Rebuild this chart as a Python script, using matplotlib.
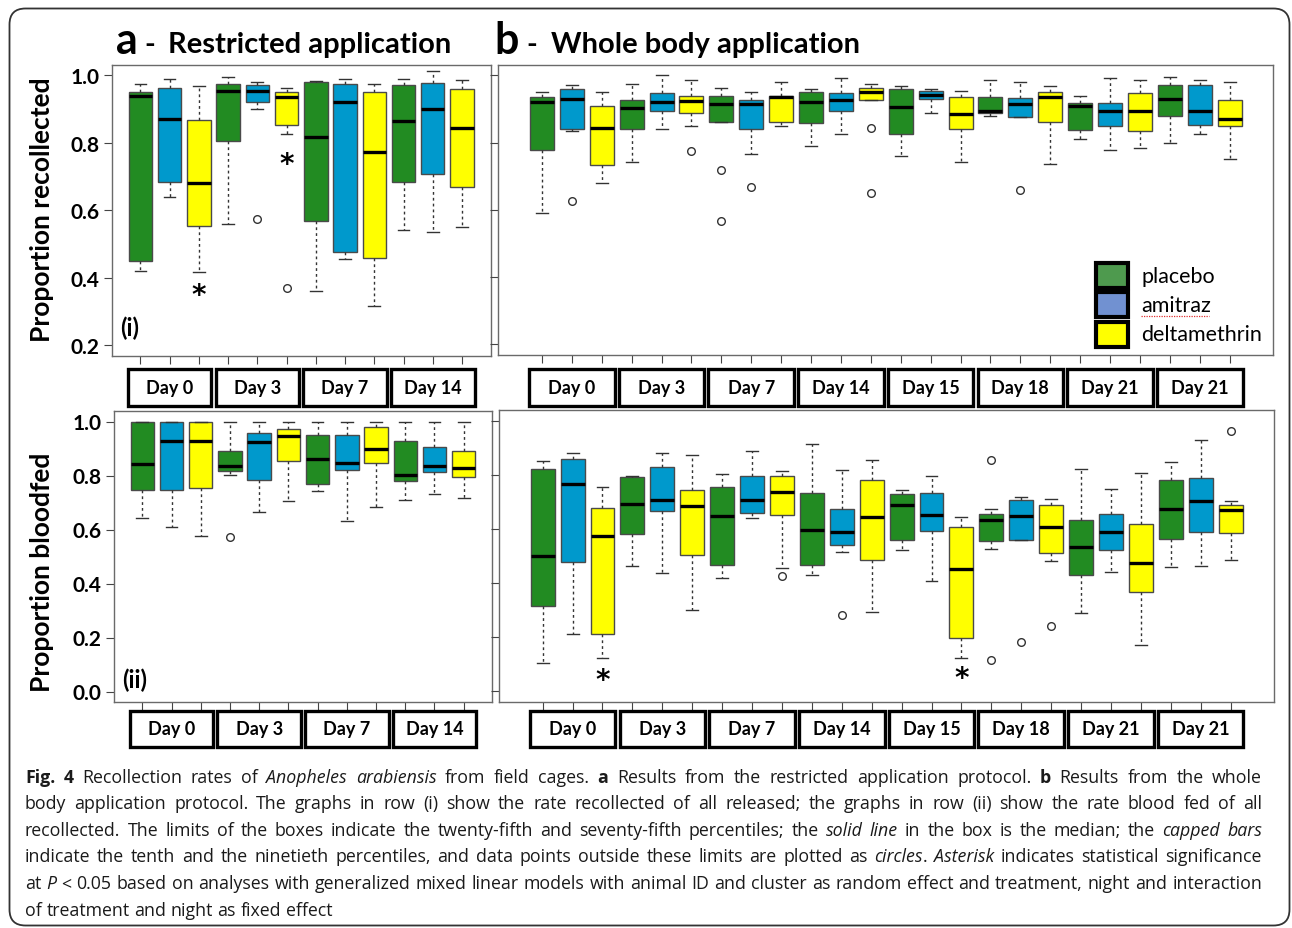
import matplotlib
matplotlib.use('Agg')
import matplotlib.pyplot as plt
from matplotlib.patches import Rectangle, FancyBboxPatch
from matplotlib.transforms import blended_transform_factory, IdentityTransform

W, H = 1292, 929

# ---------------- data ----------------
DAYS_A = ['Day 0', 'Day 3', 'Day 7', 'Day 14']
DAYS_B = ['Day 0', 'Day 3', 'Day 7', 'Day 14', 'Day 15', 'Day 18', 'Day 21', 'Day 21']
TREATMENTS = ['placebo', 'amitraz', 'deltamethrin']
BOX_COLORS = ['#228B22', '#0099CC', '#FFFF00']
LEGEND_COLORS = ['#4E9A4E', '#7191D1', '#FFFF00']

# a (i) proportion recollected, restricted application
A_REC_LO = [0.420, 0.640, 0.416, 0.560, 0.902, 0.825, 0.361, 0.457, 0.316, 0.541, 0.536, 0.551]
A_REC_Q1 = [0.451, 0.685, 0.553, 0.807, 0.921, 0.853, 0.569, 0.476, 0.459, 0.685, 0.709, 0.668]
A_REC_MED = [0.938, 0.871, 0.682, 0.954, 0.955, 0.935, 0.817, 0.922, 0.772, 0.864, 0.902, 0.845]
A_REC_Q3 = [0.951, 0.962, 0.869, 0.975, 0.972, 0.950, 0.980, 0.975, 0.951, 0.972, 0.977, 0.961]
A_REC_HI = [0.975, 0.990, 0.970, 0.995, 0.980, 0.962, 0.985, 0.990, 0.975, 0.990, 1.012, 0.986]
A_REC_OUT = [[], [], [], [], [0.575], [0.371], [], [], [], [], [], []]
A_REC_SIG = [3, 6]
A_REC_SIG_Y = [0.350, 0.738]

# a (ii) proportion bloodfed, restricted application
A_BF_LO = [0.641, 0.609, 0.575, 0.803, 0.666, 0.704, 0.743, 0.631, 0.683, 0.710, 0.733, 0.715]
A_BF_Q1 = [0.748, 0.746, 0.754, 0.818, 0.784, 0.855, 0.769, 0.821, 0.846, 0.781, 0.813, 0.794]
A_BF_MED = [0.843, 0.929, 0.929, 0.835, 0.923, 0.945, 0.860, 0.848, 0.900, 0.802, 0.835, 0.827]
A_BF_Q3 = [1.000, 1.000, 1.000, 0.892, 0.957, 0.973, 0.951, 0.951, 0.979, 0.926, 0.905, 0.889]
A_BF_HI = [1.000, 1.000, 1.000, 1.000, 1.000, 1.000, 1.000, 1.000, 1.000, 1.000, 1.000, 1.000]
A_BF_OUT = [[], [], [], [0.574], [], [], [], [], [], [], [], []]

# b (i) proportion recollected, whole body application
B_REC_LO = [0.592, 0.835, 0.680, 0.741, 0.841, 0.850, 0.860, 0.765, 0.850, 0.789, 0.825, 0.926,
            0.760, 0.889, 0.741, 0.880, 0.875, 0.735, 0.810, 0.778, 0.785, 0.800, 0.825, 0.750]
B_REC_Q1 = [0.777, 0.840, 0.733, 0.840, 0.893, 0.888, 0.860, 0.840, 0.860, 0.859, 0.895, 0.926,
            0.825, 0.931, 0.840, 0.888, 0.875, 0.862, 0.838, 0.850, 0.835, 0.880, 0.852, 0.850]
B_REC_MED = [0.920, 0.929, 0.844, 0.904, 0.920, 0.923, 0.915, 0.915, 0.935, 0.920, 0.927, 0.952,
             0.905, 0.941, 0.884, 0.895, 0.915, 0.937, 0.909, 0.895, 0.895, 0.930, 0.895, 0.869]
B_REC_Q3 = [0.936, 0.960, 0.910, 0.926, 0.949, 0.939, 0.939, 0.926, 0.938, 0.951, 0.949, 0.964,
            0.960, 0.955, 0.936, 0.936, 0.932, 0.950, 0.919, 0.919, 0.947, 0.971, 0.971, 0.926]
B_REC_HI = [0.951, 0.971, 0.951, 0.976, 1.002, 0.985, 0.963, 0.951, 0.981, 0.960, 0.991, 0.976,
            0.970, 0.961, 0.955, 0.986, 0.981, 0.970, 0.939, 0.991, 0.986, 0.996, 0.986, 0.981]
B_REC_OUT = [[], [0.625], [], [], [], [0.775], [0.719, 0.568], [0.669], [], [], [], [0.845, 0.650],
             [], [], [], [], [0.659], [], [], [], [], [], [], []]

# b (ii) proportion bloodfed, whole body application
B_BF_LO = [0.106, 0.211, 0.122, 0.463, 0.437, 0.301, 0.421, 0.640, 0.457, 0.429, 0.516, 0.292,
           0.521, 0.407, 0.122, 0.528, 0.558, 0.482, 0.289, 0.443, 0.171, 0.459, 0.463, 0.484]
B_BF_Q1 = [0.316, 0.480, 0.211, 0.580, 0.667, 0.506, 0.469, 0.660, 0.651, 0.467, 0.543, 0.484,
           0.561, 0.592, 0.197, 0.555, 0.558, 0.511, 0.429, 0.521, 0.369, 0.565, 0.588, 0.586]
B_BF_MED = [0.499, 0.768, 0.575, 0.693, 0.709, 0.687, 0.650, 0.706, 0.737, 0.595, 0.588, 0.644,
            0.690, 0.652, 0.451, 0.634, 0.650, 0.609, 0.532, 0.591, 0.473, 0.674, 0.703, 0.671]
B_BF_Q3 = [0.823, 0.860, 0.678, 0.791, 0.829, 0.744, 0.756, 0.795, 0.797, 0.735, 0.676, 0.781,
           0.730, 0.733, 0.609, 0.654, 0.706, 0.688, 0.635, 0.654, 0.617, 0.781, 0.789, 0.688]
B_BF_HI = [0.850, 0.882, 0.757, 0.796, 0.882, 0.872, 0.805, 0.887, 0.815, 0.916, 0.819, 0.856,
           0.744, 0.797, 0.645, 0.673, 0.719, 0.713, 0.822, 0.747, 0.808, 0.848, 0.931, 0.705]
B_BF_OUT = [[], [], [], [], [], [], [], [], [0.425], [], [0.283], [],
            [], [], [], [0.854, 0.115], [0.183], [0.242], [], [], [], [], [], [0.964]]
B_BF_SIG = [3, 15]
B_BF_SIG_Y = [0.042, 0.051]

CAPTION = [
    [('Fig. 4', 'bold'), (' Recollection rates of ', 'normal'), ('Anopheles arabiensis', 'italic'),
     (' from field cages. ', 'normal'), ('a', 'bold'),
     (' Results from the restricted application protocol. ', 'normal'), ('b', 'bold'),
     (' Results from the whole', 'normal')],
    [('body application protocol. The graphs in row (i) show the rate recollected of all released; '
      'the graphs in row (ii) show the rate blood fed of all', 'normal')],
    [('recollected. The limits of the boxes indicate the twenty-fifth and seventy-fifth percentiles; the ', 'normal'),
     ('solid line', 'italic'), (' in the box is the median; the ', 'normal'), ('capped bars', 'italic')],
    [('indicate the tenth and the ninetieth percentiles, and data points outside these limits are plotted as ', 'normal'),
     ('circles', 'italic'), ('. ', 'normal'), ('Asterisk', 'italic'),
     (' indicates statistical significance', 'normal')],
    [('at ', 'normal'), ('P', 'italic'),
     (' < 0.05 based on analyses with generalized mixed linear models with animal ID and cluster as random '
      'effect and treatment, night and interaction', 'normal')],
    [('of treatment and night as fixed effect', 'normal')],
]

# ---------------- figure ----------------
FONT = ['Lato', 'DejaVu Sans']
CAP_FONT = ['Open Sans', 'DejaVu Sans']
plt.rcParams['font.family'] = FONT

fig = plt.figure(figsize=(W / 100, H / 100), dpi=100)
fig.patch.set_facecolor('white')


def fx(px):
    return px / W


def fy(py):
    return 1 - py / H


def rect(l, t, r, b):
    return [fx(l), fy(b), (r - l) / W, (b - t) / H]


def make_stats(lo, q1, med, q3, hi, out):
    return [dict(whislo=a, q1=b, med=c, q3=d, whishi=e, fliers=f)
            for a, b, c, d, e, f in zip(lo, q1, med, q3, hi, out)]


def draw_panel(r, stats, ylim, yticks, show_labels):
    ax = fig.add_axes(r)
    n = len(stats)
    pos = list(range(1, n + 1))
    bp = ax.bxp(stats, positions=pos, widths=0.8, patch_artist=True, capwidths=0.4,
                manage_ticks=False,
                boxprops=dict(edgecolor='#4a4a4a', linewidth=1.0),
                medianprops=dict(color='black', linewidth=2.4, solid_capstyle='butt'),
                whiskerprops=dict(color='#333333', linestyle=(0, (2, 2.2)), linewidth=1.0),
                capprops=dict(color='#333333', linewidth=1.0),
                flierprops=dict(marker='o', markerfacecolor='white', markeredgecolor='#333333',
                                markersize=5.5, markeredgewidth=1.0))
    for i, b in enumerate(bp['boxes']):
        b.set_facecolor(BOX_COLORS[i % 3])
    ax.set_xlim(0.5 - 0.04 * n, n + 0.5 + 0.04 * n)
    ax.set_ylim(*ylim)
    ax.set_xticks(pos)
    ax.set_xticklabels([])
    ax.set_yticks(yticks)
    if show_labels:
        ax.set_yticklabels([f'{t:.1f}' for t in yticks], fontweight='bold', fontsize=15)
    else:
        ax.set_yticklabels([])
    ax.tick_params(direction='out', length=6, width=0.8, color='#444444', pad=3)
    for s in ax.spines.values():
        s.set_color('#6a6a6a')
        s.set_linewidth(1.0)
    return ax


def day_boxes(ax, days, top_px, bot_px):
    tr = blended_transform_factory(ax.transData, fig.transFigure)
    for k, d in enumerate(days):
        c = 3 * k + 2
        rr = Rectangle((c - 1.43, fy(bot_px)), 2.86, fy(top_px) - fy(bot_px), transform=tr,
                       fill=True, facecolor='white', edgecolor='black', linewidth=2.4, clip_on=False)
        fig.add_artist(rr)
        fig.text(c, fy((top_px + bot_px) / 2), d, transform=tr, ha='center', va='center',
                 fontsize=13, fontweight='bold')


ax_ai = draw_panel(rect(111.7, 65.7, 490.7, 357.0),
                   make_stats(A_REC_LO, A_REC_Q1, A_REC_MED, A_REC_Q3, A_REC_HI, A_REC_OUT),
                   (0.168, 1.032), [0.2, 0.4, 0.6, 0.8, 1.0], True)
ax_aii = draw_panel(rect(113.7, 411.7, 492.3, 703.3),
                    make_stats(A_BF_LO, A_BF_Q1, A_BF_MED, A_BF_Q3, A_BF_HI, A_BF_OUT),
                    (-0.04, 1.04), [0.0, 0.2, 0.4, 0.6, 0.8, 1.0], True)
ax_bi = draw_panel(rect(498.3, 65.7, 1273.3, 356.0),
                   make_stats(B_REC_LO, B_REC_Q1, B_REC_MED, B_REC_Q3, B_REC_HI, B_REC_OUT),
                   (0.168, 1.032), [0.2, 0.4, 0.6, 0.8, 1.0], False)
ax_bii = draw_panel(rect(499.0, 411.0, 1274.3, 703.3),
                    make_stats(B_BF_LO, B_BF_Q1, B_BF_MED, B_BF_Q3, B_BF_HI, B_BF_OUT),
                    (-0.04, 1.04), [0.0, 0.2, 0.4, 0.6, 0.8, 1.0], False)

# significance asterisks
for p, y in zip(A_REC_SIG, A_REC_SIG_Y):
    ax_ai.text(p, y, '*', ha='center', va='center', fontsize=20, fontweight='bold',
               family=['DejaVu Sans'])
for p, y in zip(B_BF_SIG, B_BF_SIG_Y):
    ax_bii.text(p, y, '*', ha='center', va='center', fontsize=20, fontweight='bold',
                family=['DejaVu Sans'])

# panel row labels
ax_ai.text(0.022, 0.10, '(i)', transform=ax_ai.transAxes, ha='left', va='center',
           fontsize=17, fontweight='bold')
ax_aii.text(0.022, 0.08, '(ii)', transform=ax_aii.transAxes, ha='left', va='center',
            fontsize=17, fontweight='bold')

# day label boxes
day_boxes(ax_ai, DAYS_A, 370, 407)
day_boxes(ax_bi, DAYS_B, 370, 407)
day_boxes(ax_aii, DAYS_A, 712, 748)
day_boxes(ax_bii, DAYS_B, 712, 748)

# legend
leg_y0 = [0.2308, 0.1309, 0.0276]
leg_ty = [0.2721, 0.1722, 0.0723]
for name, col, y0, ty in zip(TREATMENTS, LEGEND_COLORS, leg_y0, leg_ty):
    ax_bi.add_patch(Rectangle((0.7712, y0), 0.0413, 0.0861, transform=ax_bi.transAxes,
                              facecolor=col, edgecolor='black', linewidth=3.0, clip_on=False))
    ax_bi.text(0.8293, ty, name, transform=ax_bi.transAxes, ha='left', va='center',
               fontsize=15.5)
# spell-check squiggle under "amitraz"
ax_bi.plot([0.8293, 0.9165], [0.135, 0.135], transform=ax_bi.transAxes, color='#e03030',
           linewidth=0.9, linestyle=(0, (1, 1)), clip_on=False)

# y labels
fig.text(fx(42), fy(210), 'Proportion recollected', rotation=90, ha='center', va='center',
         fontsize=19, fontweight='bold')
fig.text(fx(42), fy(572), 'Proportion bloodfed', rotation=90, ha='center', va='center',
         fontsize=19, fontweight='bold')

# titles
fig.text(fx(116), fy(54), 'a', ha='left', va='baseline', fontsize=31, fontweight='bold')
fig.text(fx(144), fy(53), '-', ha='left', va='baseline', fontsize=21, fontweight='bold')
fig.text(fx(168), fy(53), 'Restricted application', ha='left', va='baseline', fontsize=21,
         fontweight='bold')
fig.text(fx(494), fy(54), 'b', ha='left', va='baseline', fontsize=31, fontweight='bold')
fig.text(fx(526), fy(53), '-', ha='left', va='baseline', fontsize=21, fontweight='bold')
fig.text(fx(551), fy(53), 'Whole body application', ha='left', va='baseline', fontsize=21,
         fontweight='bold')

# caption (justified)
renderer = fig.canvas.get_renderer()
CAP_FS = 12.8
CAP_LEFT, CAP_RIGHT = 25, 1262
CAP_BASE = [783, 809, 836, 862, 889, 916]


def mk(s, st, fs):
    kw = dict(fontsize=fs, family=CAP_FONT, ha='left', va='baseline', color='#1a1a1a')
    if st == 'bold':
        kw['fontweight'] = 'bold'
    if st == 'italic':
        kw['fontstyle'] = 'italic'
    return fig.text(0, 0, s, **kw)


def tokenize(runs):
    words = [[]]
    for text, st in runs:
        parts = text.split(' ')
        for j, p in enumerate(parts):
            if j > 0:
                words.append([])
            if p:
                words[-1].append((p, st))
    return [w for w in words if w]


def space_width(fs):
    t1 = mk('n n', 'normal', fs)
    t2 = mk('nn', 'normal', fs)
    sw = t1.get_window_extent(renderer).width - t2.get_window_extent(renderer).width
    t1.remove()
    t2.remove()
    return sw


def build_words(words, fs):
    objs = []
    total = 0
    for w in words:
        segs = []
        ww = 0
        for s, st in w:
            t = mk(s, st, fs)
            wd = t.get_window_extent(renderer).width
            segs.append((t, wd))
            ww += wd
        objs.append((segs, ww))
        total += ww
    return objs, total


avail = CAP_RIGHT - CAP_LEFT
for li, runs in enumerate(CAPTION):
    words = tokenize(runs)
    fs = CAP_FS
    sw = space_width(fs)
    objs, total = build_words(words, fs)
    natural = total + (len(words) - 1) * sw
    if natural > avail:
        for segs, _ in objs:
            for t, _ in segs:
                t.remove()
        fs = CAP_FS * avail / natural * 0.995
        sw = space_width(fs)
        objs, total = build_words(words, fs)
    if li < len(CAPTION) - 1 and len(words) > 1:
        gap = (avail - total) / (len(words) - 1)
    else:
        gap = sw
    x = CAP_LEFT
    for segs, ww in objs:
        xx = x
        for t, wd in segs:
            t.set_position((fx(xx), fy(CAP_BASE[li])))
            xx += wd
        x += ww + gap

# outer rounded border
border = FancyBboxPatch((9.5, 2.5), 1280, 917, boxstyle='round,pad=0,rounding_size=16',
                        transform=IdentityTransform(), fill=False, edgecolor='#333333',
                        linewidth=1.3)
fig.add_artist(border)

fig.savefig('out.png', dpi=100, facecolor='white')
